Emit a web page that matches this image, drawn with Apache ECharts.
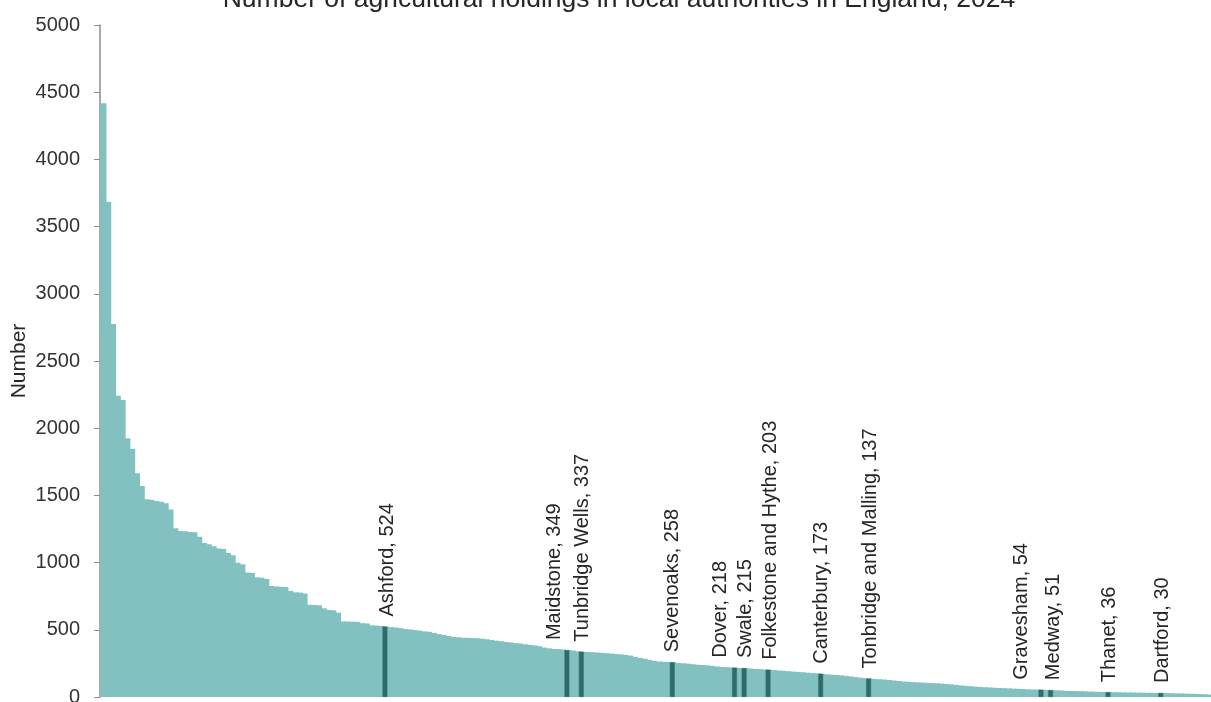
<!DOCTYPE html>
<html>
<head>
<meta charset="utf-8">
<script src="https://cdn.jsdelivr.net/npm/echarts@6/dist/echarts.min.js"></script>
<style>
  html, body { margin: 0; padding: 0; background: #ffffff; }
  #chart { width: 1211px; height: 702px; }
</style>
</head>
<body>
<div id="chart"></div>
<script>
// Number of agricultural holdings per local authority, sorted descending
const values = [
  4417, 3685, 2775, 2242, 2210, 1925, 1845, 1664, 1570, 1471,
  1468, 1458, 1453, 1441, 1396, 1256, 1235, 1233, 1228, 1226,
  1193, 1146, 1137, 1121, 1105, 1102, 1071, 1054, 998, 988,
  926, 923, 890, 888, 878, 826, 822, 820, 818, 789,
  779, 777, 770, 686, 684, 682, 660, 648, 645, 627,
  562, 561, 560, 559, 549, 547, 533, 531, 529, 524,
  520, 517, 512, 506, 503, 498, 494, 488, 485, 477,
  468, 462, 455, 447, 445, 441, 440, 438, 437, 434,
  430, 424, 419, 415, 410, 406, 401, 398, 392, 388,
  384, 378, 368, 362, 358, 356, 353, 349, 346, 340,
  337, 335, 333, 331, 329, 326, 323, 320, 317, 313,
  308, 299, 291, 285, 276, 268, 264, 262, 260, 258,
  254, 251, 248, 244, 240, 238, 236, 232, 227, 224,
  222, 220, 218, 216, 215, 212, 209, 207, 205, 203,
  200, 197, 195, 192, 189, 187, 184, 181, 178, 176,
  173, 169, 166, 164, 161, 157, 153, 148, 144, 140,
  137, 134, 132, 130, 127, 123, 119, 115, 113, 111,
  109, 107, 105, 104, 102, 100, 97, 94, 90, 86,
  83, 80, 77, 75, 73, 71, 69, 67, 66, 64,
  62, 61, 59, 57, 56, 55, 54, 53, 51, 49,
  48, 46, 45, 44, 43, 42, 40, 39, 38, 37,
  36, 35, 35, 34, 33, 33, 32, 32, 31, 31,
  30, 30, 29, 28, 27, 26, 25, 24, 23, 21,
  20, 18
];

// Kent local authorities highlighted in the chart
const kentNames = ['Ashford', 'Maidstone', 'Tunbridge Wells', 'Sevenoaks', 'Dover', 'Swale',
  'Folkestone and Hythe', 'Canterbury', 'Tonbridge and Malling', 'Gravesham', 'Medway', 'Thanet', 'Dartford'];
const kentValues = [524, 349, 337, 258, 218, 215, 203, 173, 137, 54, 51, 36, 30];
const kentRank = [59, 97, 100, 119, 132, 134, 139, 150, 160, 196, 198, 210, 221];

const yTicks = [0, 500, 1000, 1500, 2000, 2500, 3000, 3500, 4000, 4500, 5000];

// ---- styling ----
const BASE = '#82c1c0';
const DARK = '#2f6b69';
const FONT = '"Liberation Sans", Arial, Helvetica, sans-serif';
// horizontal nudges of the rotated labels (screen pixels, + = right), to avoid overlaps as in the original
const labelNudge = {
  'Ashford': 3, 'Maidstone': -12, 'Tunbridge Wells': 1.5, 'Sevenoaks': 0.5, 'Dover': -14.5,
  'Swale': 1, 'Folkestone and Hythe': 2, 'Canterbury': 1, 'Tonbridge and Malling': 1.5,
  'Gravesham': -20, 'Medway': 3, 'Thanet': 1.5, 'Dartford': 1.5
};

const categories = values.map((v, i) => {
  const k = kentRank.indexOf(i);
  return k >= 0 ? kentNames[k] : 'LA ' + (i + 1);
});

// all authorities (base colour)
const allData = values.map((v, i) => {
  const k = kentRank.indexOf(i);
  return k >= 0 ? kentValues[k] : v;
});

// Kent authorities overlaid in the dark colour, with labels
const kentData = values.map((v, i) => {
  const k = kentRank.indexOf(i);
  if (k < 0) return '-';
  const name = kentNames[k];
  return {
    value: kentValues[k],
    label: {
      // label is rotated 90deg, so local y maps to screen x
      offset: [0, labelNudge[name] || 0],
      formatter: name + ', ' + kentValues[k]
    }
  };
});

const chart = echarts.init(document.getElementById('chart'), null, { renderer: 'canvas' });
chart.setOption({
  animation: false,
  backgroundColor: '#ffffff',
  title: {
    text: 'Number of agricultural holdings in local authorities in England, 2024',
    left: 614,
    top: -19,
    textAlign: 'center',
    textStyle: { fontFamily: FONT, fontSize: 26.5, fontWeight: 'normal', color: '#262626' }
  },
  grid: { left: 100, right: 0, top: 25, bottom: 5, containLabel: false, outerBoundsMode: 'none' },
  xAxis: {
    type: 'category',
    data: categories,
    axisLine: { show: false },
    axisTick: { show: false },
    axisLabel: { show: false },
    splitLine: { show: false }
  },
  yAxis: {
    type: 'value',
    min: yTicks[0],
    max: yTicks[yTicks.length - 1],
    interval: 500,
    name: 'Number',
    nameLocation: 'middle',
    nameGap: 70,
    nameMoveOverlap: false,
    nameRotate: 90,
    nameTextStyle: { fontFamily: FONT, fontSize: 21, color: '#262626' },
    axisLine: { show: true, lineStyle: { color: '#8c8c8c', width: 1.5 } },
    axisTick: { show: true, length: 6, lineStyle: { color: '#8c8c8c' } },
    axisLabel: {
      margin: 20, fontFamily: FONT, fontSize: 20, color: '#333333',
      formatter: (v) => String(v)
    },
    splitLine: { show: false }
  },
  series: [{
    type: 'bar',
    name: 'All local authorities',
    data: allData,
    barCategoryGap: 0,
    barGap: '-100%',
    barWidth: '135%',
    itemStyle: { color: BASE },
    z: 2
  }, {
    type: 'bar',
    name: 'Kent',
    data: kentData,
    barGap: '-100%',
    barWidth: '100%',
    itemStyle: { color: DARK, borderColor: DARK, borderWidth: 0.5 },
    z: 3,
    label: {
      show: true,
      position: 'top',
      distance: 10,
      rotate: 90,
      align: 'left',
      verticalAlign: 'middle',
      fontFamily: FONT,
      fontSize: 20,
      color: '#262626'
    }
  }]
});
</script>
</body>
</html>
